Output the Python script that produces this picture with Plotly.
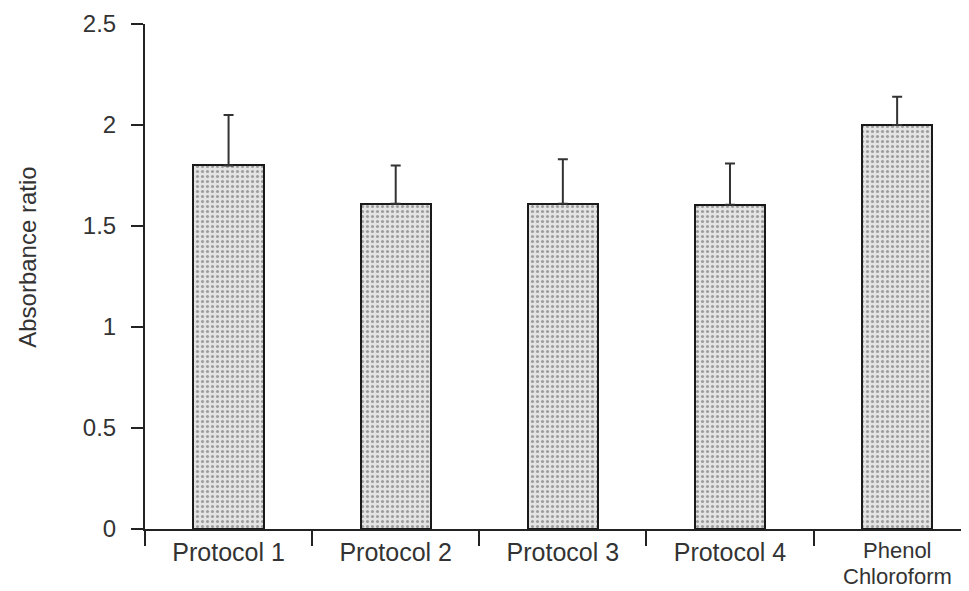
import plotly.graph_objects as go

categories = ["Protocol 1", "Protocol 2", "Protocol 3", "Protocol 4", "Phenol Chloroform"]
x_tick_labels = ["Protocol 1", "Protocol 2", "Protocol 3", "Protocol 4", ""]
last_label_lines = ["Phenol", "Chloroform"]
values = [1.80, 1.61, 1.61, 1.605, 2.0]
err_upper = [0.25, 0.19, 0.22, 0.205, 0.14]
y_ticks = [0, 0.5, 1, 1.5, 2, 2.5]
y_tick_labels = ["0", "0.5", "1", "1.5", "2", "2.5"]
y_title = "Absorbance ratio"

fig = go.Figure(go.Bar(
    x=categories,
    y=values,
    width=0.42,
    marker=dict(
        color="#dcdcdc",
        line=dict(color="#1a1a1a", width=2),
        pattern=dict(shape=".", fgcolor="#555555", bgcolor="#e4e4e4", size=5, solidity=0.3),
    ),
    error_y=dict(type="data", symmetric=False, array=err_upper, arrayminus=[0]*len(values),
                 color="#333333", thickness=2, width=5),
))

# page has an 8px body margin; figure sized to fit the 969x591 window
fig.update_layout(
    width=961, height=583,
    margin=dict(l=137, r=0, t=16, b=62),
    plot_bgcolor="white", paper_bgcolor="white",
    font=dict(family="Liberation Sans, Arial, sans-serif", size=24, color="#333333"),
    showlegend=False,
    bargap=0,
)
fig.update_xaxes(
    type="category", range=[-0.5, 4.43], automargin=False,
    tickvals=categories, ticktext=x_tick_labels,
    showline=True, linecolor="#222222", linewidth=2,
    ticks="outside", tickson="boundaries", ticklen=15, tickwidth=2, tickcolor="#222222",
    tickfont=dict(size=25, color="#333333"),
    showgrid=False, zeroline=False,
)
fig.update_yaxes(
    range=[0, 2.5], tickvals=y_ticks, ticktext=y_tick_labels, automargin=False,
    showline=True, linecolor="#222222", linewidth=2,
    ticks="outside", ticklen=12, tickwidth=2, tickcolor="#222222",
    ticklabelstandoff=10,
    tickfont=dict(size=24, color="#333333"),
    showgrid=False, zeroline=False,
)
# two-line label for the last category with tight line spacing
for line, shift in zip(last_label_lines, [-21, -47]):
    fig.add_annotation(x=categories[-1], xref="x", y=0, yref="paper", yanchor="middle",
                       yshift=shift, text=line, showarrow=False, borderpad=0,
                       font=dict(size=22, color="#333333"))
fig.add_annotation(x=-0.142, xref="paper", y=0.539, yref="paper", text=y_title,
                   textangle=-90, showarrow=False, xanchor="center", yanchor="middle",
                   font=dict(size=24, color="#333333"))
fig.write_html("out.html")
